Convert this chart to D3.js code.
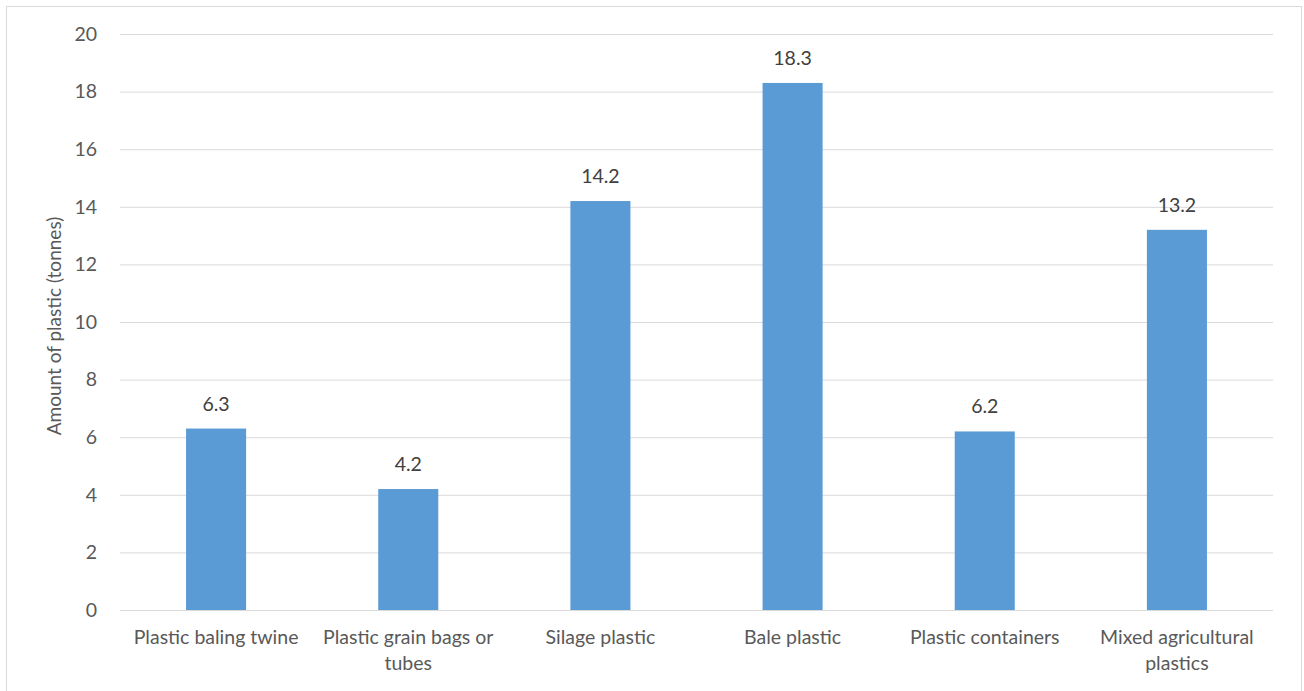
<!DOCTYPE html>
<html>
<head>
<meta charset="utf-8">
<script src="https://cdn.jsdelivr.net/npm/d3@7"></script>
<style>
  html, body { margin: 0; padding: 0; background: #fff; }
  svg { display: block; font-family: "Lato", "Open Sans", sans-serif; }
</style>
</head>
<body>
<svg id="chart" width="1304" height="691"></svg>
<script>
// Plastic collected by type
const categories = [
  ["Plastic baling twine"],
  ["Plastic grain bags or", "tubes"],
  ["Silage plastic"],
  ["Bale plastic"],
  ["Plastic containers"],
  ["Mixed agricultural", "plastics"]
];
const values = [6.3, 4.2, 14.2, 18.3, 6.2, 13.2];
const yTicks = [0, 2, 4, 6, 8, 10, 12, 14, 16, 18, 20];
const yTitle = "Amount of plastic (tonnes)";

const svg = d3.select("#chart");
const plot = { left: 120, right: 1273, top: 34, bottom: 610 };

// chart frame
svg.append("rect")
  .attr("x", 6.5).attr("y", 6.5)
  .attr("width", 1295).attr("height", 700)
  .attr("fill", "none").attr("stroke", "#d9d9d9").attr("stroke-width", 1);

const x = d3.scaleBand()
  .domain(d3.range(categories.length))
  .range([plot.left, plot.right])
  .paddingInner(0.6875).paddingOuter(0.34375);

const y = d3.scaleLinear().domain([0, 20]).range([plot.bottom, plot.top]);

// gridlines and y tick labels
const yAxis = d3.axisLeft(y).tickValues(yTicks).tickSize(-(plot.right - plot.left)).tickPadding(23);
const gy = svg.append("g").attr("transform", `translate(${plot.left},0)`).call(yAxis);
gy.select(".domain").remove();
gy.selectAll(".tick line").attr("stroke", "#d9d9d9").attr("stroke-width", 1);
gy.selectAll(".tick text")
  .attr("fill", "#595959").attr("font-size", 19.5)
  .attr("font-family", "Lato, 'Open Sans', sans-serif");

// bars
svg.append("g").selectAll("rect")
  .data(values)
  .join("rect")
  .attr("x", (d, i) => x(i))
  .attr("y", d => y(d))
  .attr("width", x.bandwidth())
  .attr("height", d => y(0) - y(d))
  .attr("fill", "#5b9bd5");

// value labels
svg.append("g").selectAll("text")
  .data(values)
  .join("text")
  .attr("x", (d, i) => x(i) + x.bandwidth() / 2)
  .attr("y", d => y(d) - 18)
  .attr("text-anchor", "middle")
  .attr("fill", "#404040")
  .attr("font-size", 19.5)
  .text(d => d.toFixed(1));

// category labels
const cat = svg.append("g").selectAll("text")
  .data(categories)
  .join("text")
  .attr("x", (d, i) => x(i) + x.bandwidth() / 2)
  .attr("y", 644)
  .attr("text-anchor", "middle")
  .attr("fill", "#595959")
  .attr("font-size", 19.5);
cat.each(function(lines) {
  const t = d3.select(this);
  lines.forEach((ln, k) => {
    t.append("tspan")
      .attr("x", t.attr("x"))
      .attr("dy", k === 0 ? 0 : 26)
      .text(ln);
  });
});

// y-axis title
svg.append("text")
  .attr("transform", `translate(61,${(plot.top + plot.bottom) / 2 + 4}) rotate(-90)`)
  .attr("text-anchor", "middle")
  .attr("fill", "#595959")
  .attr("font-size", 19)
  .text(yTitle);
</script>
</body>
</html>
